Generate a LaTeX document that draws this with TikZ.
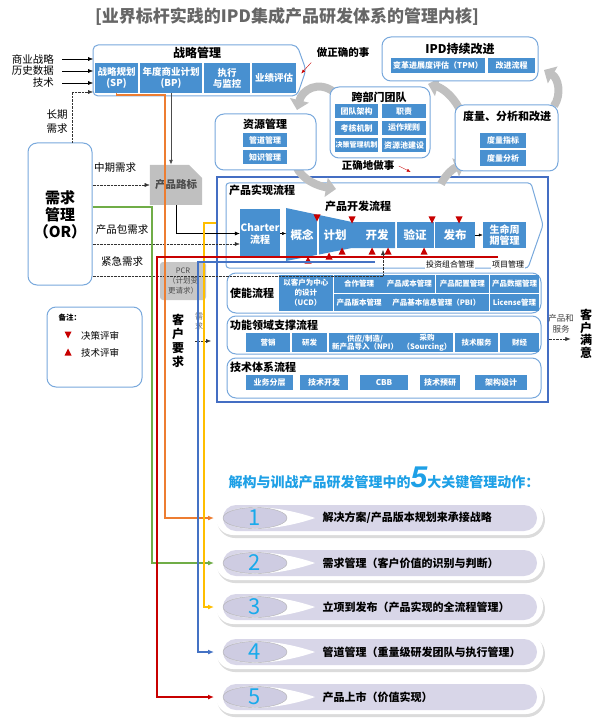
\documentclass[tikz,border=0pt]{standalone}
\usepackage{fontspec}
\setmainfont{Noto Sans CJK SC}
\newfontfamily\digitfont{Liberation Sans}
\usetikzlibrary{arrows.meta,positioning,shapes.misc}
\definecolor{cellblue}{RGB}{72,144,208}
\definecolor{edgeblue}{RGB}{120,168,220}
\definecolor{frameblue}{RGB}{68,110,195}
\definecolor{linered}{RGB}{200,0,0}
\definecolor{lineorange}{RGB}{237,125,49}
\definecolor{linegreen}{RGB}{112,173,71}
\definecolor{lineyellow}{RGB}{255,190,0}
\definecolor{lineblue}{RGB}{68,114,196}
\definecolor{cyclegray}{RGB}{192,192,192}
\definecolor{lilac}{RGB}{216,214,232}
\definecolor{ovalfill}{RGB}{206,204,226}
\definecolor{numblue}{RGB}{25,170,235}
\definecolor{headblue}{RGB}{30,160,230}
\tikzset{
  cell/.style={fill=cellblue,text=white,font=\bfseries\fontsize{8}{9}\selectfont,align=center,inner sep=0pt},
  panel/.style={draw=edgeblue,fill=white,line width=1pt,rounded corners=9pt,inner sep=0pt},
  ptitle/.style={font=\bfseries\fontsize{11}{12}\selectfont,inner sep=1pt},
  stage/.style={text=white,font=\bfseries\fontsize{11.5}{12}\selectfont,inner sep=0pt},
  lbl/.style={font=\fontsize{10.5}{12}\selectfont,inner sep=1pt},
  feed/.style={-{Latex[length=5pt,width=4pt]},black},
  dotfeed/.style={densely dotted,-{Latex[length=5pt,width=4pt]},black!80},
  loopar/.style={cyclegray,line width=8pt,-{Triangle[length=10pt,width=19pt]}},
  track/.style={line width=1.5pt,-{Latex[length=6pt,width=5pt]}},
  roadmap/.style={chamfered rectangle,chamfered rectangle corners=north east,
    chamfered rectangle xsep=8pt,chamfered rectangle ysep=8pt,fill=cyclegray,
    minimum width=49pt,minimum height=40pt,inner sep=0pt,
    font=\bfseries\fontsize{10.5}{12}\selectfont,text=black!70},
}
\newcommand{\bluecell}[6]{\node[cell,minimum width={(#4-#2)*1pt},minimum height={(#5-#3)*1pt}] (#1) at ({(#2+#4)/2},{(#3+#5)/2}) {#6};}
\newcommand{\panelbox}[5]{\node[panel,minimum width={(#4-#2)*1pt},minimum height={(#5-#3)*1pt}] (#1) at ({(#2+#4)/2},{(#3+#5)/2}) {};}
\newcommand{\dectri}[2]{\fill[linered] (#1-3.5,#2-3.5) -- (#1+3.5,#2-3.5) -- (#1,#2+3.5) -- cycle;}
\newcommand{\techtri}[2]{\fill[linered] (#1-3.5,#2+3.5) -- (#1+3.5,#2+3.5) -- (#1,#2-3.5) -- cycle;}
\begin{document}
\begin{tikzpicture}[x=1pt,y=-1pt]
\useasboundingbox (0,0) rectangle (599,727);
\node[font=\bfseries\fontsize{17}{19}\selectfont,text=black!60] (title) at (287,17) {[业界标杆实践的IPD集成产品研发体系的管理内核]};

% product realisation frame
\node[draw=frameblue,line width=1.2pt,minimum width=331pt,minimum height=225pt,inner sep=0pt] (frame) at (382.5,289.5) {};
\draw[edgeblue,line width=1pt,rounded corners=3pt] (226,183) -- (531,183) -- (543,225) -- (528,268) -- (226,268) -- cycle;

% improvement loop
\draw[loopar] (334,92) .. controls (318,80) and (302,90) .. (297,110);
\draw[loopar] (296,166) .. controls (302,180) and (318,186) .. (336,189);
\draw[loopar] (441,184) .. controls (446,174) and (454,168) .. (465,164);
\draw[loopar] (459,108) .. controls (452,95) and (442,88) .. (428,84);
\draw[loopar] (554,106) .. controls (562,94) and (558,78) .. (544,70);

% strategy
\draw[edgeblue,line width=1pt,rounded corners=5pt,fill=white] (93,45) -- (297,45) -- (306,70) -- (297,96) -- (93,96) -- cycle;
\coordinate (stratw) at (93,70);
\node[ptitle,font=\bfseries\fontsize{12}{13}\selectfont] (strategy) at (197,53) {战略管理};
\begin{scope}[cell/.append style={font=\bfseries\fontsize{9.5}{11}\selectfont}]
\bluecell{sp}{95}{63}{138}{93}{战略规划\\(SP)}
\bluecell{bp}{140}{63}{202}{93}{年度商业计划\\(BP)}
\bluecell{exe}{204}{63}{250}{93}{执行\\与监控}
\bluecell{perf}{252}{63}{296}{93}{业绩评估}
\end{scope}
\node[font=\bfseries\fontsize{10.5}{12}\selectfont] (rightthings) at (343,53) {做正确的事};

% continuous improvement
\panelbox{ipd}{382}{37}{538}{81}
\node[font=\bfseries\fontsize{12}{13}\selectfont] (ipdt) at (460,49) {IPD持续改进};
\bluecell{tpm}{391}{58}{485}{73}{变革进展度评估（TPM）}
\bluecell{impr}{488}{58}{535}{73}{改进流程}

% cross-functional team
\panelbox{team}{330}{87}{430}{158}
\node[ptitle] (teamt) at (379,97) {跨部门团队};
\bluecell{tarch}{335}{104}{378}{118}{团队架构}
\bluecell{tduty}{382}{104}{426}{118}{职责}
\bluecell{tkpi}{335}{121}{378}{135}{考核机制}
\bluecell{trule}{382}{121}{426}{135}{运作规则}
\begin{scope}[cell/.append style={font=\bfseries\fontsize{7}{8}\selectfont}]
\bluecell{tdec}{335}{138}{378}{152}{决策管理机制}
\end{scope}
\bluecell{tpool}{382}{138}{426}{152}{资源池建设}

% resources
\panelbox{res}{215}{114}{316}{170}
\node[ptitle] (rest) at (265,124) {资源管理};
\bluecell{pipe}{243}{133}{287}{147}{管道管理}
\bluecell{know}{243}{150}{287}{164}{知识管理}

% measurement
\panelbox{meas}{455}{105}{558}{171}
\node[ptitle] (meast) at (507,116) {度量、分析和改进};
\bluecell{mkpi}{480}{133}{526}{148}{度量指标}
\bluecell{mana}{480}{150}{526}{166}{度量分析}

\node[font=\bfseries\fontsize{10.5}{12}\selectfont] (dothings) at (368,166) {正确地做事};

% development process
\node[ptitle,anchor=west] (realt) at (228,190) {产品实现流程};
\node[ptitle] (devt) at (358,206) {产品开发流程};
\begin{scope}[cell/.append style={font=\bfseries\fontsize{10}{12}\selectfont}]
\bluecell{charter}{240}{209}{280}{258}{Charter\\流程}
\end{scope}
\fill[cellblue] (286,208) -- (352,222) -- (395,222) -- (395,248) -- (352,248) -- (286,261) -- cycle;
\draw[white,line width=1.2pt] (318,200) -- (318,265);
\node[stage] (concept) at (302,235) {概念};
\node[stage] (plan) at (335,235) {计划};
\node[stage] (dev) at (377,235) {开发};
\begin{scope}[cell/.append style={font=\bfseries\fontsize{11.5}{12}\selectfont}]
\bluecell{verify}{396.5}{222}{433.5}{248}{验证}
\bluecell{launch}{435}{222}{475}{248}{发布}
\end{scope}
\begin{scope}[cell/.append style={font=\bfseries\fontsize{10}{11}\selectfont}]
\bluecell{life}{483}{222}{526}{248}{生命周\\期管理}
\end{scope}
\dectri{317}{218} \dectri{352}{220} \dectri{432}{220} \dectri{459}{220}
\techtri{308}{260} \techtri{329}{256} \techtri{342}{251} \techtri{372}{251} \techtri{388}{251} \techtri{424}{251}
\node[font=\fontsize{8}{9}\selectfont,fill=white,inner sep=1pt] (portfolio) at (450,264) {投资组合管理};
\node[font=\fontsize{8}{9}\selectfont,fill=white,inner sep=1pt] (projm) at (508,264) {项目管理};

% enabling processes
\panelbox{enable}{227}{273}{541}{313}
\node[ptitle,anchor=west] (enablet) at (229,293) {使能流程};
\begin{scope}[cell/.append style={font=\bfseries\fontsize{7.5}{10}\selectfont}]
\bluecell{ucd}{279}{275}{332.5}{311}{以客户为中心\\的设计\\（UCD）}
\bluecell{coop}{334}{275}{384}{292.5}{合作管理}
\bluecell{cost}{384}{275}{434.5}{292.5}{产品成本管理}
\bluecell{config}{436}{275}{488.5}{292.5}{产品配置管理}
\bluecell{pdata}{490}{275}{539}{292.5}{产品数据管理}
\bluecell{pver}{334}{294}{384}{311}{产品版本管理}
\bluecell{pbi}{384}{294}{488.5}{311}{产品基本信息管理（PBI）}
\bluecell{lic}{490}{294}{539}{311}{License管理}
\end{scope}

% functional support
\panelbox{func}{227}{316}{541}{354}
\node[ptitle,anchor=west] (funct) at (229,325) {功能领域支撑流程};
\begin{scope}[cell/.append style={font=\bfseries\fontsize{7.5}{8.5}\selectfont}]
\bluecell{mkt}{246}{333}{290}{352}{营销}
\bluecell{rnd}{292}{333}{327}{352}{研发}
\bluecell{supply}{329}{333}{401}{352}{供应/制造/\\新产品导入（NPI）}
\bluecell{sourcing}{401}{333}{453}{352}{采购\\（Sourcing）}
\bluecell{service}{455}{333}{498}{352}{技术服务}
\bluecell{fin}{500}{333}{539}{352}{财经}
\end{scope}

% technology
\panelbox{techp}{227}{358}{541}{398}
\node[ptitle,anchor=west] (techt) at (229,367) {技术体系流程};
\bluecell{layer}{246}{375}{293}{390}{业务分层}
\bluecell{tdev}{300}{375}{348}{390}{技术开发}
\bluecell{cbb}{360}{375}{408}{390}{CBB}
\bluecell{tpre}{420}{375}{460}{390}{技术预研}
\bluecell{archd}{475}{375}{527}{390}{架构设计}

% inputs and demand
\node[lbl,anchor=east] (biz) at (55,59) {商业战略};
\node[lbl,anchor=east] (hist) at (55,71) {历史数据};
\node[lbl,anchor=east] (techin) at (55,83) {技术};
\panelbox{dm}{28}{143}{92}{285}
\node[font=\bfseries\fontsize{15}{17}\selectfont,align=center] (dmt) at (60,215) {需求\\管理\\（OR）};
\node[lbl,align=center,font=\fontsize{10.5}{14}\selectfont] (longreq) at (57,122) {长期\\需求};
\node[lbl] (midreq) at (115,168) {中期需求};
\node[lbl] (pkgreq) at (122,230) {产品包需求};
\node[lbl] (urgreq) at (122,262) {紧急需求};
\node[roadmap] (rm) at (176,185) {产品路标};
\node[fill=black!22,rounded corners=3pt,minimum width=46pt,minimum height=38pt,inner sep=0pt,
  align=center,font=\fontsize{7.5}{10}\selectfont,text=black!70] (pcr) at (183,281) {PCR\\（计划变\\更请求）};
\node[font=\bfseries\fontsize{12}{14}\selectfont,align=center] (custreq) at (178,341) {客\\户\\要\\求};
\node[font=\fontsize{8}{10}\selectfont,align=center,text=black!60] (smallreq) at (199,322) {需\\求};
\node[font=\fontsize{8.5}{11}\selectfont,align=center,text=black!75] (prodsvc) at (561,324) {产品和\\服务};
\node[font=\bfseries\fontsize{12}{12.5}\selectfont,align=center] (satisfied) at (586,334) {客\\户\\满\\意};

% legend
\panelbox{note}{47}{307}{142}{387}
\node[font=\bfseries\fontsize{7.5}{9}\selectfont,anchor=west] (notet) at (55,318) {备注：};
\dectri{68}{335} \techtri{68}{352}
\node[lbl,anchor=west,font=\fontsize{9.5}{11}\selectfont] (decrev) at (80,336) {决策评审};
\node[lbl,anchor=west,font=\fontsize{9.5}{11}\selectfont] (techrev) at (80,353) {技术评审};

% connectors
\foreach \s in {biz,hist,techin} \draw[feed] ([xshift=7pt]\s.east) -- (\s.east -| stratw);
\coordinate (lt) at (72,92);
\draw[dotfeed] (dm.north -| lt) -- (lt) -- (lt -| stratw);
\draw[-{Latex[length=5pt,width=4pt]},black!70,line width=0.9pt] (bp.south) -- (bp.south |- rm.north);
\draw[feed] (rm.south) |- (charter.west);
\draw[dotfeed] (dm.east |- rm.west) -- (rm.west);
\coordinate (pkgy) at (0,244);
\draw[dotfeed] (dm.east |- pkgy) -- (charter.west |- pkgy);
\coordinate (urgy) at (0,276);
\coordinate (urg) at (383,250);
\draw[dotfeed] (dm.east |- urgy) -| (urg);
\draw[-{Latex[length=4pt,width=3pt]}] (charter.east) -- ++(6pt,0);
\draw[-{Latex[length=4pt,width=3pt]}] (launch.east) -- (life.west);
\coordinate (reqin) at (211,341);
\draw[dotfeed] ([xshift=-16pt]reqin) -- (reqin);
\coordinate (outy) at (0,339);
\draw[dotfeed] (frame.east |- outy) -- ([xshift=-6pt]satisfied.west |- outy);
\draw[linered,-{Latex[length=4pt,width=3pt]}] ([xshift=-2pt,yshift=-1pt]rightthings.south west) -- ++(-10pt,-11pt);
\draw[linered,-{Latex[length=4pt,width=3pt]}] ([xshift=1pt]dothings.east) -- ++(12pt,-6pt);

% five key actions
\node[font=\bfseries\fontsize{14}{16}\selectfont,text=headblue] (headline) at (384,478) {解构与训战产品研发管理中的{\digitfont\bfseries\itshape\fontsize{30}{30}\selectfont 5}大关键管理动作：};
\foreach \n/\c/\txt in {1/518/{解决方案/产品版本规划来承接战略},2/563/{需求管理（客户价值的识别与判断）},3/607/{立项到发布（产品实现的全流程管理）},4/652/{管道管理（重量级研发团队与执行管理）},5/697/{产品上市（价值实现）}}{
  \fill[black!14,rounded corners=18pt] (217,\c-16) rectangle (545,\c+20);
  \fill[white,rounded corners=17pt] (216,\c-18) rectangle (543,\c+17);
  \fill[lilac,rounded corners=13pt] (223,\c-13) rectangle (537,\c+13);
  \fill[white] (226,\c) .. controls (226,\c-15) and (275,\c-14) .. (315,\c) .. controls (275,\c+14) and (226,\c+15) .. (226,\c) -- cycle;
  \draw[black!30,fill=ovalfill] (255,\c) ellipse (32pt and 10.5pt);
  \node[font=\fontsize{22}{22}\selectfont,text=numblue] (num\n) at (255,\c) {\n};
  \node[anchor=west,font=\bfseries\fontsize{11}{12}\selectfont] (act\n) at (319,\c) {\txt};
  \coordinate (pin\n) at (214,\c);
}

% colour tracks to the actions
\coordinate (oy) at (0,95);
\draw[track,lineorange] (sp.south) |- ([xshift=-49pt]pin1 |- oy) -- ([xshift=-49pt]pin1) -- (pin1);
\coordinate (gy) at (0,207);
\draw[track,linegreen] (dm.east |- gy) -| ([xshift=-62pt]pin2) -- (pin2);
\coordinate (yy) at (0,223);
\draw[track,lineyellow] (frame.west |- yy) -| ([xshift=-10pt]pin3) -- (pin3);
\coordinate (by) at (375,262);
\draw[track,lineblue] (by) -| ([xshift=-16pt]pin4) -- (pin4);
\coordinate (ry) at (498,257);
\draw[track,linered] (ry) -| ([xshift=-57pt]pin5) -- (pin5);
\end{tikzpicture}
\end{document}
